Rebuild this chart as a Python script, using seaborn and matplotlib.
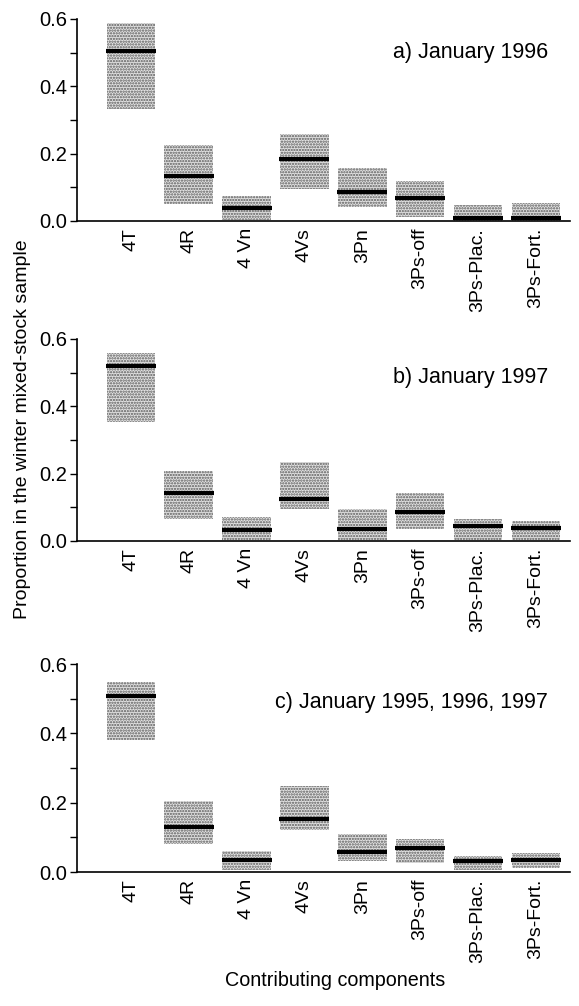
import matplotlib
matplotlib.use("Agg")
import matplotlib.pyplot as plt
import seaborn as sns
import numpy as np
import pandas as pd

sns.set_style("ticks")
plt.rcParams['font.family'] = ['Liberation Sans', 'DejaVu Sans']
plt.rcParams['hatch.linewidth'] = 1.1
plt.rcParams['text.color'] = 'black'
plt.rcParams['axes.labelcolor'] = 'black'
plt.rcParams['xtick.color'] = 'black'
plt.rcParams['ytick.color'] = 'black'
plt.rcParams['axes.edgecolor'] = 'black'

categories = ["4T", "4R", "4 Vn", "4Vs", "3Pn", "3Ps-off", "3Ps-Plac.", "3Ps-Fort."]

# a) January 1996
est_a  = [0.505, 0.135, 0.040, 0.185, 0.087, 0.069, 0.008, 0.010]
low_a  = [0.332, 0.050, 0.003, 0.095, 0.043, 0.013, 0.000, 0.000]
high_a = [0.587, 0.226, 0.074, 0.257, 0.158, 0.119, 0.048, 0.054]

# b) January 1997
est_b  = [0.519, 0.142, 0.032, 0.125, 0.036, 0.086, 0.045, 0.040]
low_b  = [0.354, 0.065, 0.003, 0.095, 0.003, 0.036, 0.003, 0.003]
high_b = [0.557, 0.209, 0.072, 0.234, 0.095, 0.142, 0.064, 0.059]

# c) January 1995, 1996, 1997
est_c  = [0.509, 0.129, 0.034, 0.152, 0.059, 0.069, 0.031, 0.034]
low_c  = [0.381, 0.081, 0.005, 0.120, 0.031, 0.026, 0.007, 0.012]
high_c = [0.547, 0.205, 0.062, 0.247, 0.110, 0.095, 0.047, 0.055]

titles = ["a) January 1996", "b) January 1997", "c) January 1995, 1996, 1997"]
title_y = [0.50, 0.487, 0.49]

W, H = 579, 1006
fig = plt.figure(figsize=(W / 100, H / 100), dpi=100)

# axes boxes in pixel coords: (top, bottom)
boxes = [(19, 221), (339, 541), (664, 872)]
left_px, right_px = 77, 570

panels = [(est_a, low_a, high_a), (est_b, low_b, high_b), (est_c, low_c, high_c)]

for i, ((est, low, high), (top, bot)) in enumerate(zip(panels, boxes)):
    ax = fig.add_axes([left_px / W, 1 - bot / H, (right_px - left_px) / W, (bot - top) / H])
    df = pd.DataFrame({
        "comp": categories,
        "est": est,
        "low": low,
        "span": np.array(high) - np.array(low),
    })
    sns.barplot(data=df, x="comp", y="span", order=categories, ax=ax,
                bottom=df["low"].values, width=0.84,
                color="#e2e2e2", edgecolor="#5a5a5a", linewidth=0,
                hatch="......", saturation=1, errorbar=None)
    sns.scatterplot(data=df, x="comp", y="est", ax=ax, marker="_",
                    s=1250, linewidth=3.0, color="black", zorder=5, legend=False)
    ax.set_xlim(-0.93, 7.59)
    ax.set_ylim(0, 0.6)
    ax.set_yticks([0.0, 0.2, 0.4, 0.6])
    ax.set_yticks([0.1, 0.3, 0.5], minor=True)
    ax.set_yticklabels(["0.0", "0.2", "0.4", "0.6"], fontsize=14.5)
    ax.tick_params(axis="y", which="both", direction="out", length=5, width=1, pad=2,
                   colors="black", labelcolor="black")
    ax.tick_params(axis="x", length=0, pad=5, labelcolor="black")
    ax.set_xticks(range(len(categories)))
    ax.set_xticklabels(categories, rotation=90, fontsize=14)
    ax.set_xlabel("")
    ax.set_ylabel("")
    for s in ["top", "right"]:
        ax.spines[s].set_visible(False)
    for s in ["left", "bottom"]:
        ax.spines[s].set_linewidth(1.2)
        ax.spines[s].set_color("black")
    ax.text(0.955, title_y[i], titles[i], transform=ax.get_yaxis_transform(),
            ha="right", va="center", fontsize=15.5, color="black")

fig.text(0.038, 0.573, "Proportion in the winter mixed-stock sample", rotation=90,
         ha="center", va="center", fontsize=14, color="black")
fig.text(0.579, 1 - 980 / H, "Contributing components", ha="center", va="center",
         fontsize=14.2, color="black")

fig.savefig("out.png", dpi=100)
